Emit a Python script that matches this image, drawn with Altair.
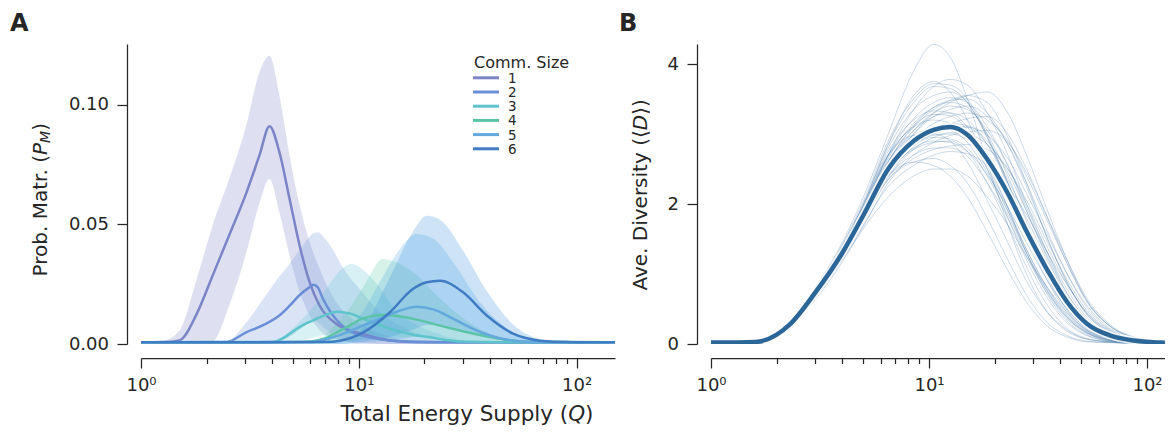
import altair as alt
import pandas as pd

FONT = "DejaVu Sans"
INK = "#262626"

# ---------------- Panel A : probability of maturation ----------------
comm_sizes = ["1", "2", "3", "4", "5", "6"]
comm_colors = ["#7a84c6", "#6b8fd6", "#5ec4cc", "#5cc4a6", "#64a9dd", "#3f7cc4"]
band_colors = ["#7a84c6", "#6f95da", "#5ec8d2", "#5ccaa8", "#4aa6e2", "#3a95da"]

a1_q    = [1, 1.25, 1.5, 1.8, 2.13, 2.54, 3.04, 3.5, 3.89, 4.32, 4.81, 5.35, 5.95, 6.61, 7.89, 10.4, 14, 20, 30, 150]
a1_mean = [0.0007, 0.0008, 0.0015, 0.0125, 0.0285, 0.0455, 0.063, 0.079, 0.0911, 0.0802, 0.0607, 0.0411, 0.0258, 0.016, 0.0084, 0.0042, 0.0015, 0.0008, 0.0007, 0.0007]
a1_lo   = [0, 0, 0, 0, 0.001, 0.016, 0.038, 0.059, 0.069, 0.055, 0.037, 0.0216, 0.0118, 0.0058, 0.002, 0.0005, 0, 0, 0, 0]
a1_hi   = [0, 0.001, 0.0056, 0.027, 0.0495, 0.069, 0.0913, 0.1138, 0.1206, 0.104, 0.0788, 0.0579, 0.0426, 0.0314, 0.0174, 0.008, 0.003, 0.0005, 0, 0]

a2_q    = [1, 2.46, 3.04, 3.62, 4.3, 4.81, 5.35, 5.95, 6.2, 6.5, 6.85, 7.6, 8.2, 8.8, 10.1, 12.5, 16.6, 23, 30, 150]
a2_mean = [0.0007, 0.0008, 0.0049, 0.0078, 0.0118, 0.016, 0.0205, 0.0238, 0.0248, 0.0235, 0.0188, 0.012, 0.0085, 0.0062, 0.0038, 0.002, 0.001, 0.0007, 0.0007, 0.0007]
a2_lo   = [0, 0, 0, 0, 0.001, 0.003, 0.006, 0.009, 0.0095, 0.009, 0.007, 0.004, 0.002, 0.001, 0, 0, 0, 0, 0, 0]
a2_hi   = [0, 0.001, 0.0089, 0.0185, 0.028, 0.0336, 0.0393, 0.045, 0.0463, 0.0467, 0.045, 0.0395, 0.034, 0.0295, 0.023, 0.0133, 0.0063, 0.002, 0.0005, 0]

a3_q    = [1, 4.0, 4.6, 5.17, 5.8, 6.38, 7.2, 7.89, 8.8, 9.3, 10.5, 12.5, 14.9, 18, 21.2, 30, 45, 150]
a3_mean = [0.0007, 0.0008, 0.003, 0.0063, 0.0088, 0.0105, 0.0125, 0.0135, 0.013, 0.0125, 0.0105, 0.0078, 0.0056, 0.0038, 0.0028, 0.001, 0.0007, 0.0007]
a3_lo   = [0, 0, 0, 0.001, 0.002, 0.003, 0.004, 0.0045, 0.0042, 0.004, 0.003, 0.002, 0.001, 0, 0, 0, 0, 0]
a3_hi   = [0, 0.001, 0.004, 0.008, 0.0125, 0.017, 0.024, 0.029, 0.0328, 0.0335, 0.031, 0.0235, 0.0135, 0.0085, 0.0055, 0.0015, 0, 0]

a4_q    = [1, 5.5, 6.83, 7.8, 8.77, 10.5, 12.9, 15, 17.8, 23.6, 31.5, 43, 60, 150]
a4_mean = [0.0007, 0.0008, 0.002, 0.0045, 0.007, 0.0107, 0.0121, 0.0117, 0.0105, 0.0077, 0.0049, 0.0024, 0.0009, 0.0007]
a4_lo   = [0, 0, 0, 0.0005, 0.001, 0.002, 0.003, 0.003, 0.003, 0.002, 0.001, 0, 0, 0]
a4_hi   = [0, 0, 0.003, 0.008, 0.013, 0.024, 0.0356, 0.034, 0.030, 0.019, 0.0095, 0.003, 0.001, 0]

a5_q    = [1, 6, 7.4, 8.8, 10.5, 12.5, 15.5, 18.4, 22, 27.2, 36.3, 51, 70, 150]
a5_mean = [0.0007, 0.0008, 0.0025, 0.0049, 0.0078, 0.0105, 0.014, 0.0156, 0.0145, 0.0105, 0.0049, 0.0014, 0.0008, 0.0007]
a5_lo   = [0, 0, 0, 0, 0.0005, 0.001, 0.002, 0.003, 0.003, 0.002, 0.001, 0, 0, 0]
a5_hi   = [0, 0.001, 0.003, 0.006, 0.014, 0.026, 0.040, 0.046, 0.044, 0.034, 0.017, 0.005, 0.001, 0]

a6_q    = [1, 7, 8.2, 10.5, 13.9, 17.7, 20.5, 23.6, 30.1, 38.8, 51.4, 68, 90, 150]
a6_mean = [0.0007, 0.0008, 0.0014, 0.0049, 0.0133, 0.023, 0.0258, 0.0265, 0.0216, 0.0118, 0.0042, 0.0014, 0.0008, 0.0007]
a6_lo   = [0, 0, 0, 0.001, 0.003, 0.006, 0.008, 0.008, 0.006, 0.003, 0.001, 0, 0, 0]
a6_hi   = [0, 0, 0.001, 0.007, 0.028, 0.047, 0.0537, 0.052, 0.039, 0.022, 0.008, 0.002, 0.0005, 0]

a_y_ticks = [0, 0.05, 0.10]

# ---------------- Panel B : average diversity ----------------
qB = [1, 1.6, 2.3, 3, 4, 5, 6.5, 8.5, 10.5, 12.5, 15, 18.5, 23, 28, 35, 43, 53, 68, 87, 115, 150]
b_mean = [0.02, 0.03, 0.28, 0.73, 1.30, 1.84, 2.50, 2.90, 3.06, 3.10, 2.99, 2.64, 2.15, 1.61, 1.05, 0.60, 0.29, 0.12, 0.05, 0.02, 0.01]

r01 = [0.02, 0.03, 0.30, 0.80, 1.45, 2.10, 3.00, 3.90, 4.28, 4.10, 3.50, 2.60, 1.70, 1.00, 0.45, 0.18, 0.07, 0.03, 0.02, 0.01, 0.01]
r02 = [0.02, 0.03, 0.32, 0.78, 1.40, 2.00, 2.85, 3.55, 3.75, 3.60, 3.20, 2.50, 1.80, 1.20, 0.65, 0.30, 0.12, 0.04, 0.02, 0.01, 0.01]
r03 = [0.02, 0.03, 0.28, 0.72, 1.32, 1.92, 2.70, 3.35, 3.68, 3.78, 3.70, 3.30, 2.70, 2.00, 1.30, 0.72, 0.35, 0.13, 0.05, 0.02, 0.01]
r04 = [0.02, 0.03, 0.26, 0.68, 1.25, 1.80, 2.50, 3.00, 3.30, 3.45, 3.55, 3.60, 3.30, 2.70, 1.90, 1.20, 0.62, 0.25, 0.09, 0.03, 0.01]
r05 = [0.02, 0.03, 0.27, 0.70, 1.20, 1.65, 2.10, 2.40, 2.50, 2.50, 2.40, 2.10, 1.70, 1.25, 0.80, 0.45, 0.20, 0.08, 0.03, 0.01, 0.01]
r06 = [0.02, 0.03, 0.30, 0.75, 1.30, 1.80, 2.35, 2.60, 2.65, 2.55, 2.30, 1.80, 1.20, 0.70, 0.30, 0.12, 0.04, 0.02, 0.01, 0.01, 0.01]
r07 = [0.02, 0.03, 0.29, 0.74, 1.33, 1.90, 2.60, 3.05, 3.25, 3.30, 3.20, 2.85, 2.30, 1.70, 1.10, 0.62, 0.30, 0.11, 0.04, 0.02, 0.01]
r08 = [0.02, 0.03, 0.27, 0.70, 1.28, 1.85, 2.55, 3.00, 3.25, 3.35, 3.40, 3.25, 2.85, 2.30, 1.60, 1.00, 0.52, 0.20, 0.07, 0.02, 0.01]
r09 = [0.02, 0.03, 0.28, 0.71, 1.28, 1.80, 2.45, 2.78, 2.88, 2.90, 2.75, 2.30, 1.70, 1.10, 0.55, 0.22, 0.08, 0.03, 0.01, 0.01, 0.01]
r10 = [0.02, 0.03, 0.31, 0.77, 1.36, 1.95, 2.70, 3.10, 3.20, 3.15, 2.95, 2.50, 1.90, 1.30, 0.75, 0.38, 0.16, 0.05, 0.02, 0.01, 0.01]
r11 = [0.02, 0.03, 0.26, 0.69, 1.27, 1.85, 2.60, 3.10, 3.35, 3.48, 3.55, 3.45, 2.95, 2.30, 1.50, 0.88, 0.42, 0.16, 0.06, 0.02, 0.01]
r12 = [0.02, 0.03, 0.30, 0.76, 1.38, 1.98, 2.70, 2.98, 3.00, 2.90, 2.60, 2.05, 1.45, 0.90, 0.45, 0.20, 0.07, 0.03, 0.01, 0.01, 0.01]
r13 = [0.02, 0.03, 0.29, 0.73, 1.32, 1.90, 2.65, 3.15, 3.38, 3.45, 3.38, 3.00, 2.40, 1.75, 1.10, 0.60, 0.27, 0.10, 0.03, 0.01, 0.01]
r14 = [0.02, 0.03, 0.25, 0.66, 1.20, 1.70, 2.25, 2.55, 2.70, 2.75, 2.72, 2.55, 2.25, 1.85, 1.30, 0.85, 0.45, 0.18, 0.07, 0.02, 0.01]
r15 = [0.02, 0.03, 0.27, 0.70, 1.27, 1.82, 2.48, 2.85, 3.00, 3.07, 3.10, 2.98, 2.65, 2.15, 1.55, 1.00, 0.55, 0.22, 0.08, 0.03, 0.01]
r16 = [0.02, 0.03, 0.30, 0.76, 1.36, 1.96, 2.75, 3.20, 3.33, 3.30, 3.10, 2.60, 1.95, 1.30, 0.70, 0.33, 0.13, 0.04, 0.02, 0.01, 0.01]
r17 = [0.02, 0.03, 0.26, 0.68, 1.23, 1.75, 2.35, 2.65, 2.78, 2.83, 2.85, 2.78, 2.50, 2.05, 1.45, 0.92, 0.48, 0.19, 0.07, 0.02, 0.01]
r18 = [0.02, 0.03, 0.30, 0.77, 1.38, 1.98, 2.80, 3.35, 3.55, 3.60, 3.45, 2.95, 2.30, 1.60, 0.95, 0.50, 0.22, 0.08, 0.03, 0.01, 0.01]
r19 = [0.02, 0.03, 0.25, 0.66, 1.22, 1.76, 2.40, 2.82, 3.02, 3.14, 3.22, 3.25, 3.00, 2.50, 1.80, 1.15, 0.60, 0.25, 0.09, 0.03, 0.01]
r20 = [0.02, 0.03, 0.28, 0.72, 1.30, 1.85, 2.50, 2.85, 2.95, 2.93, 2.80, 2.40, 1.85, 1.30, 0.75, 0.38, 0.16, 0.05, 0.02, 0.01, 0.01]
r21 = [0.02, 0.03, 0.31, 0.78, 1.40, 2.00, 2.85, 3.45, 3.68, 3.65, 3.45, 2.95, 2.25, 1.55, 0.90, 0.45, 0.19, 0.06, 0.02, 0.01, 0.01]
r22 = [0.02, 0.03, 0.28, 0.71, 1.29, 1.86, 2.55, 2.95, 3.10, 3.15, 3.12, 2.90, 2.45, 1.90, 1.25, 0.72, 0.35, 0.13, 0.05, 0.02, 0.01]
r23 = [0.02, 0.03, 0.32, 0.80, 1.38, 1.90, 2.40, 2.60, 2.55, 2.40, 2.10, 1.60, 1.05, 0.60, 0.25, 0.10, 0.03, 0.02, 0.01, 0.01, 0.01]
r24 = [0.02, 0.03, 0.27, 0.70, 1.28, 1.86, 2.60, 3.12, 3.38, 3.48, 3.50, 3.30, 2.85, 2.25, 1.50, 0.88, 0.43, 0.16, 0.06, 0.02, 0.01]
r25 = [0.02, 0.03, 0.28, 0.72, 1.30, 1.86, 2.50, 2.88, 2.98, 3.00, 2.92, 2.60, 2.10, 1.55, 0.98, 0.55, 0.25, 0.09, 0.03, 0.01, 0.01]
r26 = [0.02, 0.03, 0.26, 0.68, 1.25, 1.80, 2.48, 2.92, 3.15, 3.25, 3.30, 3.20, 2.90, 2.40, 1.75, 1.15, 0.62, 0.25, 0.09, 0.03, 0.01]
r27 = [0.02, 0.03, 0.29, 0.73, 1.30, 1.82, 2.40, 2.70, 2.80, 2.80, 2.68, 2.30, 1.80, 1.25, 0.72, 0.36, 0.15, 0.05, 0.02, 0.01, 0.01]
r28 = [0.02, 0.03, 0.24, 0.63, 1.17, 1.68, 2.30, 2.70, 2.88, 2.98, 3.03, 3.05, 2.88, 2.45, 1.80, 1.20, 0.65, 0.27, 0.10, 0.03, 0.01]
r29 = [0.02, 0.03, 0.29, 0.75, 1.35, 1.93, 2.68, 3.12, 3.28, 3.26, 3.05, 2.55, 1.95, 1.35, 0.78, 0.40, 0.17, 0.06, 0.02, 0.01, 0.01]
r30 = [0.02, 0.03, 0.27, 0.69, 1.26, 1.83, 2.55, 3.05, 3.30, 3.40, 3.35, 3.05, 2.55, 1.95, 1.30, 0.78, 0.38, 0.14, 0.05, 0.02, 0.01]
r31 = [0.02, 0.03, 0.30, 0.76, 1.35, 1.92, 2.62, 2.98, 3.08, 3.05, 2.88, 2.45, 1.90, 1.35, 0.80, 0.42, 0.18, 0.06, 0.02, 0.01, 0.01]
r32 = [0.02, 0.03, 0.26, 0.67, 1.22, 1.74, 2.38, 2.78, 2.95, 3.02, 3.00, 2.85, 2.50, 2.00, 1.38, 0.85, 0.44, 0.17, 0.06, 0.02, 0.01]
r33 = [0.02, 0.03, 0.31, 0.79, 1.42, 2.04, 2.90, 3.50, 3.72, 3.70, 3.50, 2.98, 2.30, 1.62, 0.95, 0.48, 0.20, 0.07, 0.02, 0.01, 0.01]
r34 = [0.02, 0.03, 0.28, 0.71, 1.28, 1.84, 2.52, 2.92, 3.06, 3.12, 3.10, 2.85, 2.35, 1.80, 1.18, 0.68, 0.32, 0.12, 0.04, 0.01, 0.01]
r35 = [0.02, 0.03, 0.27, 0.70, 1.25, 1.78, 2.42, 2.80, 2.90, 2.88, 2.75, 2.42, 1.95, 1.45, 0.90, 0.50, 0.22, 0.08, 0.03, 0.01, 0.01]
r36 = [0.02, 0.03, 0.29, 0.74, 1.34, 1.92, 2.70, 3.22, 3.45, 3.52, 3.45, 3.10, 2.55, 1.90, 1.22, 0.68, 0.32, 0.12, 0.04, 0.01, 0.01]

b_y_ticks = [0, 2, 4]

x_major = [1, 10, 100]
x_minor = [2, 3, 4, 5, 6, 7, 8, 9, 20, 30, 40, 50, 60, 70, 80, 90]

# ---------------- tables ----------------
a_series = [
    (a1_q, a1_mean, a1_lo, a1_hi), (a2_q, a2_mean, a2_lo, a2_hi),
    (a3_q, a3_mean, a3_lo, a3_hi), (a4_q, a4_mean, a4_lo, a4_hi),
    (a5_q, a5_mean, a5_lo, a5_hi), (a6_q, a6_mean, a6_lo, a6_hi),
]
rows = []
for name, (qs, ms, los, his) in zip(comm_sizes, a_series):
    for q, m, lo, hi in zip(qs, ms, los, his):
        rows.append({"size": name, "q": q, "mean": m, "lo": lo, "hi": hi})
dfA = pd.DataFrame(rows)

runs = [r01, r02, r03, r04, r05, r06, r07, r08, r09, r10, r11, r12, r13, r14, r15, r16, r17, r18,
        r19, r20, r21, r22, r23, r24, r25, r26, r27, r28, r29, r30, r31, r32, r33, r34, r35, r36]
rowsB = []
for i, r in enumerate(runs):
    for q, d in zip(qB, r):
        rowsB.append({"run": i, "q": q, "d": d})
dfRuns = pd.DataFrame(rowsB)
dfMean = pd.DataFrame({"q": qB, "d": b_mean})

# ---------------- scales & axes ----------------
W, H = 474, 300
WB = 454                       # panel B is cut at the right edge of the page
xscale_a = alt.Scale(type="log", domain=[1, 150], nice=False)
xscale_b = alt.Scale(type="log", domain=[1, 120.9], nice=False)
ya_scale = alt.Scale(domain=[0, 0.1255], nice=False, zero=False)
yb_scale = alt.Scale(domain=[0, 4.286], nice=False, zero=False)
line_scale = alt.Scale(domain=comm_sizes, range=comm_colors)
band_scale = alt.Scale(domain=comm_sizes, range=band_colors)

sup_expr = "datum.value == 1 ? '10\u2070' : datum.value == 10 ? '10\u00b9' : '10\u00b2'"
x_axis_major = alt.Axis(values=x_major, labelExpr=sup_expr, orient="bottom", offset=14,
                        tickSize=10, labelPadding=8, labelFlush=False, labelOverlap=False,
                        grid=False, title=None)
x_axis_minor = alt.Axis(values=x_minor, labels=False, domain=False, orient="bottom",
                        offset=14, tickSize=5.5, grid=False, title=None)
ya_axis = alt.Axis(values=a_y_ticks, format=".2f", offset=14, tickSize=10, labelPadding=8.5,
                   grid=False, title=None)
yb_axis = alt.Axis(values=b_y_ticks, format="d", offset=14, tickSize=10, labelPadding=8.5,
                   grid=False, title=None)


def txt(t, x, y, size=20, angle=0, align="left", italic=False, bold=False):
    mk = dict(font=FONT, fontSize=size, color=INK, align=align, baseline="alphabetic")
    if angle:
        mk["angle"] = angle
    if italic:
        mk["fontStyle"] = "italic"
    if bold:
        mk["fontWeight"] = "bold"
    return alt.Chart(pd.DataFrame({"t": [t]})).mark_text(**mk).encode(
        x=alt.value(x), y=alt.value(y), text="t:N")


# ---------------- Panel A ----------------
bands = alt.Chart(dfA).mark_area(opacity=0.25, interpolate="monotone").encode(
    x=alt.X("q:Q", scale=xscale_a, axis=x_axis_major),
    y=alt.Y("lo:Q", scale=ya_scale, axis=ya_axis),
    y2="hi:Q",
    fill=alt.Fill("size:N", scale=band_scale, legend=None),
)
lines = alt.Chart(dfA).mark_line(strokeWidth=2.5, interpolate="monotone").encode(
    x=alt.X("q:Q", scale=xscale_a, axis=x_axis_minor),
    y=alt.Y("mean:Q", scale=ya_scale, axis=ya_axis),
    stroke=alt.Stroke("size:N", scale=line_scale, legend=None),
)

# legend "Comm. Size" drawn as marks coloured through the same stroke scale
legend_layers = [txt("Comm. Size", 333, 24, size=16)]
for i, s in enumerate(comm_sizes):
    row = pd.DataFrame({"size": [s]})
    legend_layers.append(
        alt.Chart(row).mark_rule(strokeWidth=3).encode(
            x=alt.value(332), x2=alt.value(358), y=alt.value(33.8 + 14.2 * i),
            stroke=alt.Stroke("size:N", scale=line_scale, legend=None)))
    legend_layers.append(
        alt.Chart(row).mark_text(font=FONT, fontSize=13.5, color=INK, align="left",
                                 baseline="alphabetic").encode(
            x=alt.value(367), y=alt.value(38.8 + 14.2 * i), text="size:N"))

PA = 111.0   # where the italic P of A's y title starts
XT = 377     # baseline of the shared x title (relative to the plot top)
panelA = alt.layer(
    bands, lines, *legend_layers,
    txt("A", -131, -13, size=24, bold=True),
    txt("Prob. Matr. (", -94.5, PA, angle=270, align="right"),
    txt("P", -94.5, PA, angle=270, italic=True),
    txt("M", -91.0, PA - 12.1, size=14, angle=270, italic=True),
    txt(")", -94.5, PA - 24.2, angle=270),
    txt("Total Energy Supply (", 427.2, XT, size=21.5, align="right"),
    txt("Q", 427.2, XT, size=21.5, italic=True),
    txt(")", 444.1, XT, size=21.5),
).resolve_axis(x="independent").properties(width=W, height=H)

# ---------------- Panel B ----------------
spaghetti = alt.Chart(dfRuns).mark_line(strokeWidth=1, opacity=0.24, color="#2b6699",
                                        interpolate="monotone", clip=True).encode(
    x=alt.X("q:Q", scale=xscale_b, axis=x_axis_major),
    y=alt.Y("d:Q", scale=yb_scale, axis=yb_axis),
    detail="run:N",
)
halo = alt.Chart(dfMean).mark_line(strokeWidth=8, opacity=0.85, color="white",
                                   interpolate="monotone", clip=True).encode(
    x=alt.X("q:Q", scale=xscale_b, axis=None),
    y=alt.Y("d:Q", scale=yb_scale, axis=yb_axis),
)
mean_line = alt.Chart(dfMean).mark_line(strokeWidth=4.5, color="#2b6699",
                                        interpolate="monotone", clip=True).encode(
    x=alt.X("q:Q", scale=xscale_b, axis=x_axis_minor),
    y=alt.Y("d:Q", scale=yb_scale, axis=yb_axis),
)

DB = 86.25   # where the italic D of B's y title starts
panelB = alt.layer(
    spaghetti, halo, mean_line,
    txt("B", -92, -13, size=24, bold=True),
    txt("Ave. Diversity (\u27e8", -64.3, DB, angle=270, align="right"),
    txt("D", -64.3, DB, angle=270, italic=True),
    txt("\u27e9)", -64.3, DB - 15.4, angle=270),
).resolve_axis(x="independent").properties(width=WB, height=H)

chart = alt.hconcat(panelA, panelB, spacing=96, bounds="flush").properties(
    padding={"left": 2, "top": 4, "right": 0, "bottom": 0}
).configure_view(stroke=None).configure_axis(
    labelFont=FONT, labelFontSize=18, labelColor=INK,
    domainColor=INK, tickColor=INK, domainWidth=1.25, tickWidth=1.25,
)

chart.save("out.html", embed_options={"renderer": "svg", "actions": False})
